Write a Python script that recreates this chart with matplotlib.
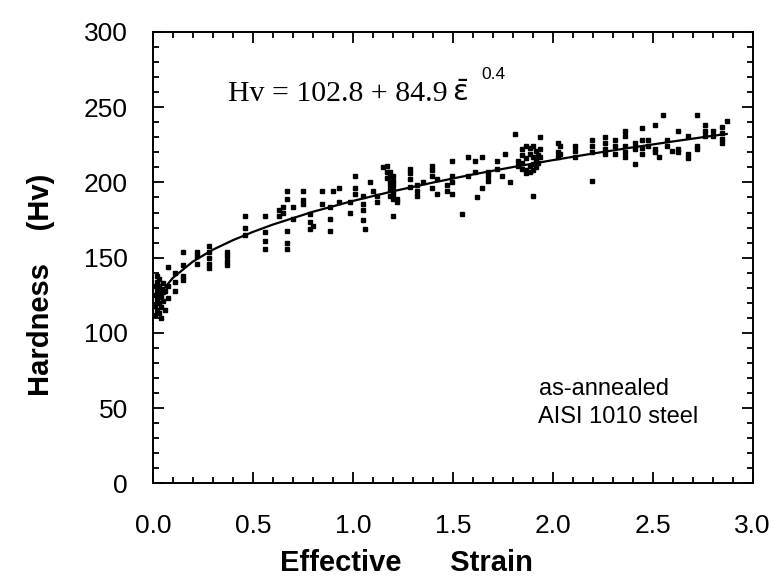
import matplotlib
matplotlib.use("Agg")
import matplotlib.pyplot as plt
from matplotlib.ticker import MultipleLocator

# measured points, grouped by the strain level they were taken at
strain_levels = [0.01, 0.02, 0.03, 0.04, 0.05, 0.06, 0.075, 0.11,
                 0.15, 0.22, 0.28, 0.37, 0.46, 0.56,
                 0.63, 0.65, 0.67, 0.70, 0.75, 0.785, 0.80, 0.845, 0.885, 0.90,
                 0.93, 0.985, 1.01, 1.05, 1.06, 1.085, 1.10, 1.12,
                 1.15, 1.17, 1.185, 1.20, 1.22, 1.285, 1.32, 1.35,
                 1.395, 1.42, 1.47, 1.495, 1.545, 1.575, 1.61, 1.62, 1.645,
                 1.675, 1.72, 1.745, 1.76, 1.785, 1.81,
                 1.825, 1.845, 1.865, 1.885, 1.90, 1.915, 1.925, 1.935,
                 2.025, 2.035, 2.11, 2.195, 2.26, 2.31, 2.36, 2.41, 2.445,
                 2.475, 2.51, 2.53, 2.55, 2.57, 2.595, 2.625, 2.675, 2.72,
                 2.76, 2.80, 2.845, 2.87]
hardness_at_level = [
    [112, 118, 125, 131], [115, 122, 128, 134, 138], [113, 120, 126, 131, 136],
    [110, 117, 124, 129], [121, 127, 133], [115, 128], [144, 131, 123], [140, 134, 128],
    [154, 145, 138, 135], [151, 146, 154], [158, 154, 150, 146, 143],
    [154, 151, 148, 145], [178, 170, 165], [178, 167, 161, 156],
    [178, 182], [184, 180], [194, 189, 168, 160, 156], [184, 176], [194, 188, 186],
    [179, 174, 169], [171], [194, 186], [184, 176, 168], [194],
    [196, 187], [187, 180], [204, 196, 192], [191, 186, 182, 175], [169], [200],
    [194], [191, 187],
    [210], [211, 207, 203], [207, 204, 201, 198, 195, 191],
    [204, 201, 198, 195, 192, 189, 178], [189, 187], [209, 206, 202, 197],
    [198, 194, 191], [200],
    [211, 208, 204, 196], [202, 192], [198, 194], [214, 204, 200, 192], [179],
    [217, 204], [214, 207], [190], [196, 217],
    [207, 204, 201], [214, 209], [204], [219], [200], [232],
    [214, 211], [222, 218, 213, 209], [224, 216, 208, 206], [223, 219, 211, 207],
    [224, 217, 212, 208, 191], [221, 215, 210], [218, 213], [230, 222, 217],
    [226, 220, 217], [224, 219], [224, 221, 217], [228, 224, 220, 201],
    [230, 226, 222, 219], [228, 224, 219], [234, 231, 224, 220, 217],
    [226, 222, 212], [236, 228, 223, 219],
    [228, 224], [238, 222, 220], [217], [245], [228, 224], [221], [234, 222, 220],
    [231, 219, 216], [245, 224, 222],
    [238, 234, 231], [234, 231], [237, 233, 229, 226], [241],
]

# fitted curve
curve_strain = [0.02, 0.05, 0.1, 0.2, 0.3, 0.4, 0.5, 0.6, 0.8, 1.0, 1.2, 1.4,
                1.6, 1.8, 2.0, 2.2, 2.4, 2.6, 2.8, 2.87]
curve_hv = [120.5, 128.4, 136.6, 147.4, 155.3, 161.6, 167.1, 172.0, 180.5, 187.7,
            194.1, 199.9, 205.3, 210.2, 214.8, 219.2, 223.3, 227.2, 231.0, 232.2]

xs, ys = [], []
for s, hs in zip(strain_levels, hardness_at_level):
    for h in hs:
        xs.append(s)
        ys.append(h)

plt.rcParams['font.family'] = ['Liberation Sans', 'DejaVu Sans']
plt.rcParams['mathtext.fontset'] = 'dejavusans'

fig = plt.figure(figsize=(7.76, 5.81), dpi=100)
ax = fig.add_axes([0.197, 0.168, 0.773, 0.777])

ax.plot(xs, ys, 's', color='black', ms=3.2, mec='black')
ax.plot(curve_strain, curve_hv, '-', color='black', lw=1.6)

ax.set_xlim(0, 3.0)
ax.set_ylim(0, 300)
ax.xaxis.set_major_locator(MultipleLocator(0.5))
ax.xaxis.set_minor_locator(MultipleLocator(0.1))
ax.yaxis.set_major_locator(MultipleLocator(50))
ax.yaxis.set_minor_locator(MultipleLocator(10))
ax.xaxis.set_major_formatter(matplotlib.ticker.FormatStrFormatter('%.1f'))
ax.tick_params(which='both', direction='in', top=True, right=True, width=1.3)
ax.tick_params(which='major', length=8, labelsize=19)
ax.tick_params(which='minor', length=4)
ax.tick_params(axis='x', which='major', pad=22)
ax.tick_params(axis='y', which='major', pad=18)
for sp in ax.spines.values():
    sp.set_linewidth(1.4)

ax.set_xlabel('Effective      Strain', fontsize=21, fontweight='bold')
ax.xaxis.set_label_coords(0.422, -0.145)
ax.set_ylabel('Hardness    (Hv)', fontsize=21, fontweight='bold')
ax.yaxis.set_label_coords(-0.163, 0.44)

ax.text(0.375, 254, 'Hv = 102.8 + 84.9', family='Liberation Serif', fontsize=21.5)
ax.text(1.497, 254, r'$\bar{\mathrm{\epsilon}}$', fontsize=21)
ax.text(1.645, 269, '0.4', fontsize=12.5)

ax.text(1.93, 59, 'as-annealed', fontsize=17)
ax.text(1.925, 40, 'AISI 1010 steel', fontsize=17)

fig.savefig('out.png', dpi=100)
